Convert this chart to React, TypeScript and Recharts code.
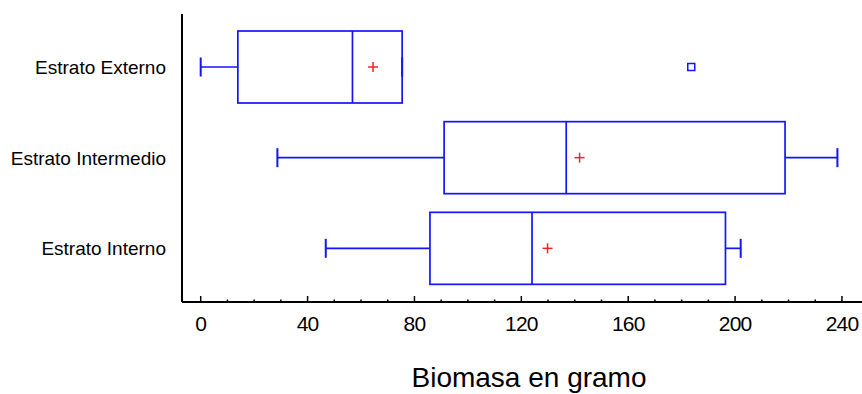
import React from 'react';
import { ComposedChart, Bar, XAxis, YAxis } from 'recharts';

const categories = ['Estrato Externo', 'Estrato Intermedio', 'Estrato Interno'];
const mins = [0, 28.7, 46.8];
const q1s = [13.9, 91.1, 85.8];
const medians = [56.8, 136.8, 124.0];
const q3s = [75.4, 218.7, 196.4];
const maxs = [75.4, 238.3, 202.1];
const means = [64.5, 141.8, 129.8];
const outliers = [[183.6], [], []];

const xTicks = [0, 10, 20, 30, 40, 50, 60, 70, 80, 90, 100, 110, 120, 130, 140, 150, 160, 170, 180, 190, 200, 210, 220, 230, 240];
const labelStep = 40;

const data = categories.map((name, i) => ({
  name,
  min: mins[i],
  q1: q1s[i],
  median: medians[i],
  q3: q3s[i],
  max: maxs[i],
  mean: means[i],
  outliers: outliers[i],
}));

const BLUE = '#1414ff';
const RED = '#ff2020';
const FONT = '"Liberation Sans", Arial, sans-serif';

// box drawn inside the ranged bar [min, max]; inner positions use the bar's own scale
const BoxShape = (props: any) => {
  const { x, y, width, height, payload } = props;
  const k = width / (payload.max - payload.min);
  const px = (v: number) => x + (v - payload.min) * k;
  const cy = y + height / 2;
  const cap = 9.5;
  return (
    <g>
      <line x1={px(payload.min)} x2={px(payload.q1)} y1={cy} y2={cy} stroke={BLUE} strokeWidth={1.7} />
      <line x1={px(payload.q3)} x2={px(payload.max)} y1={cy} y2={cy} stroke={BLUE} strokeWidth={1.7} />
      <line x1={px(payload.min)} x2={px(payload.min)} y1={cy - cap} y2={cy + cap} stroke={BLUE} strokeWidth={2} />
      <line x1={px(payload.max)} x2={px(payload.max)} y1={cy - cap} y2={cy + cap} stroke={BLUE} strokeWidth={2} />
      <rect
        x={px(payload.q1)}
        y={y}
        width={px(payload.q3) - px(payload.q1)}
        height={height}
        fill="none"
        stroke={BLUE}
        strokeWidth={1.7}
      />
      <line x1={px(payload.median)} x2={px(payload.median)} y1={y} y2={y + height} stroke={BLUE} strokeWidth={1.7} />
      <line x1={px(payload.mean) - 5} x2={px(payload.mean) + 5} y1={cy} y2={cy} stroke={RED} strokeWidth={1.5} />
      <line x1={px(payload.mean)} x2={px(payload.mean)} y1={cy - 5} y2={cy + 5} stroke={RED} strokeWidth={1.5} />
      {payload.outliers.map((o: number, i: number) => (
        <rect key={i} x={px(o) - 3.5} y={cy - 3.5} width={7} height={7} fill="none" stroke={BLUE} strokeWidth={1.5} />
      ))}
    </g>
  );
};

const XTick = (props: any) => {
  const { x, y, payload } = props;
  const major = payload.value % labelStep === 0;
  return (
    <g>
      <line x1={x} x2={x} y1={y} y2={y - (major ? 6 : 2.5)} stroke="#000" strokeWidth={1.5} />
      {major && (
        <text x={x} y={y + 29} textAnchor="middle" fontSize={21} letterSpacing={-0.8} fontFamily={FONT} fill="#000">
          {payload.value}
        </text>
      )}
    </g>
  );
};

const App: React.FC = () => {
  return (
    <div style={{ position: 'absolute', left: 0, top: 0, background: '#fff' }}>
      <ComposedChart
        width={862}
        height={394}
        data={data}
        layout="vertical"
        margin={{ top: 14, right: 0, bottom: 0, left: 0 }}
      >
        <XAxis
          type="number"
          domain={[-7, 247.5]}
          ticks={xTicks}
          interval={0}
          tick={<XTick />}
          tickLine={false}
          tickSize={0}
          tickMargin={0}
          height={92}
          axisLine={{ stroke: '#000', strokeWidth: 2 }}
          label={() => (
            <text x={529} y={387} textAnchor="middle" fontSize={28} fontFamily={FONT} fill="#000">
              Biomasa en gramo
            </text>
          )}
        />
        <YAxis
          type="category"
          dataKey="name"
          width={182}
          padding={{ top: 8, bottom: 8 }}
          tickLine={false}
          tickSize={0}
          tickMargin={16}
          axisLine={{ stroke: '#000', strokeWidth: 2 }}
          tick={{ fontSize: 19, fontFamily: FONT, fill: '#000' }}
        />
        <Bar
          dataKey={(d: any) => [d.min, d.max]}
          barSize={72}
          shape={<BoxShape />}
          isAnimationActive={false}
        />
      </ComposedChart>
    </div>
  );
};

export default App;
